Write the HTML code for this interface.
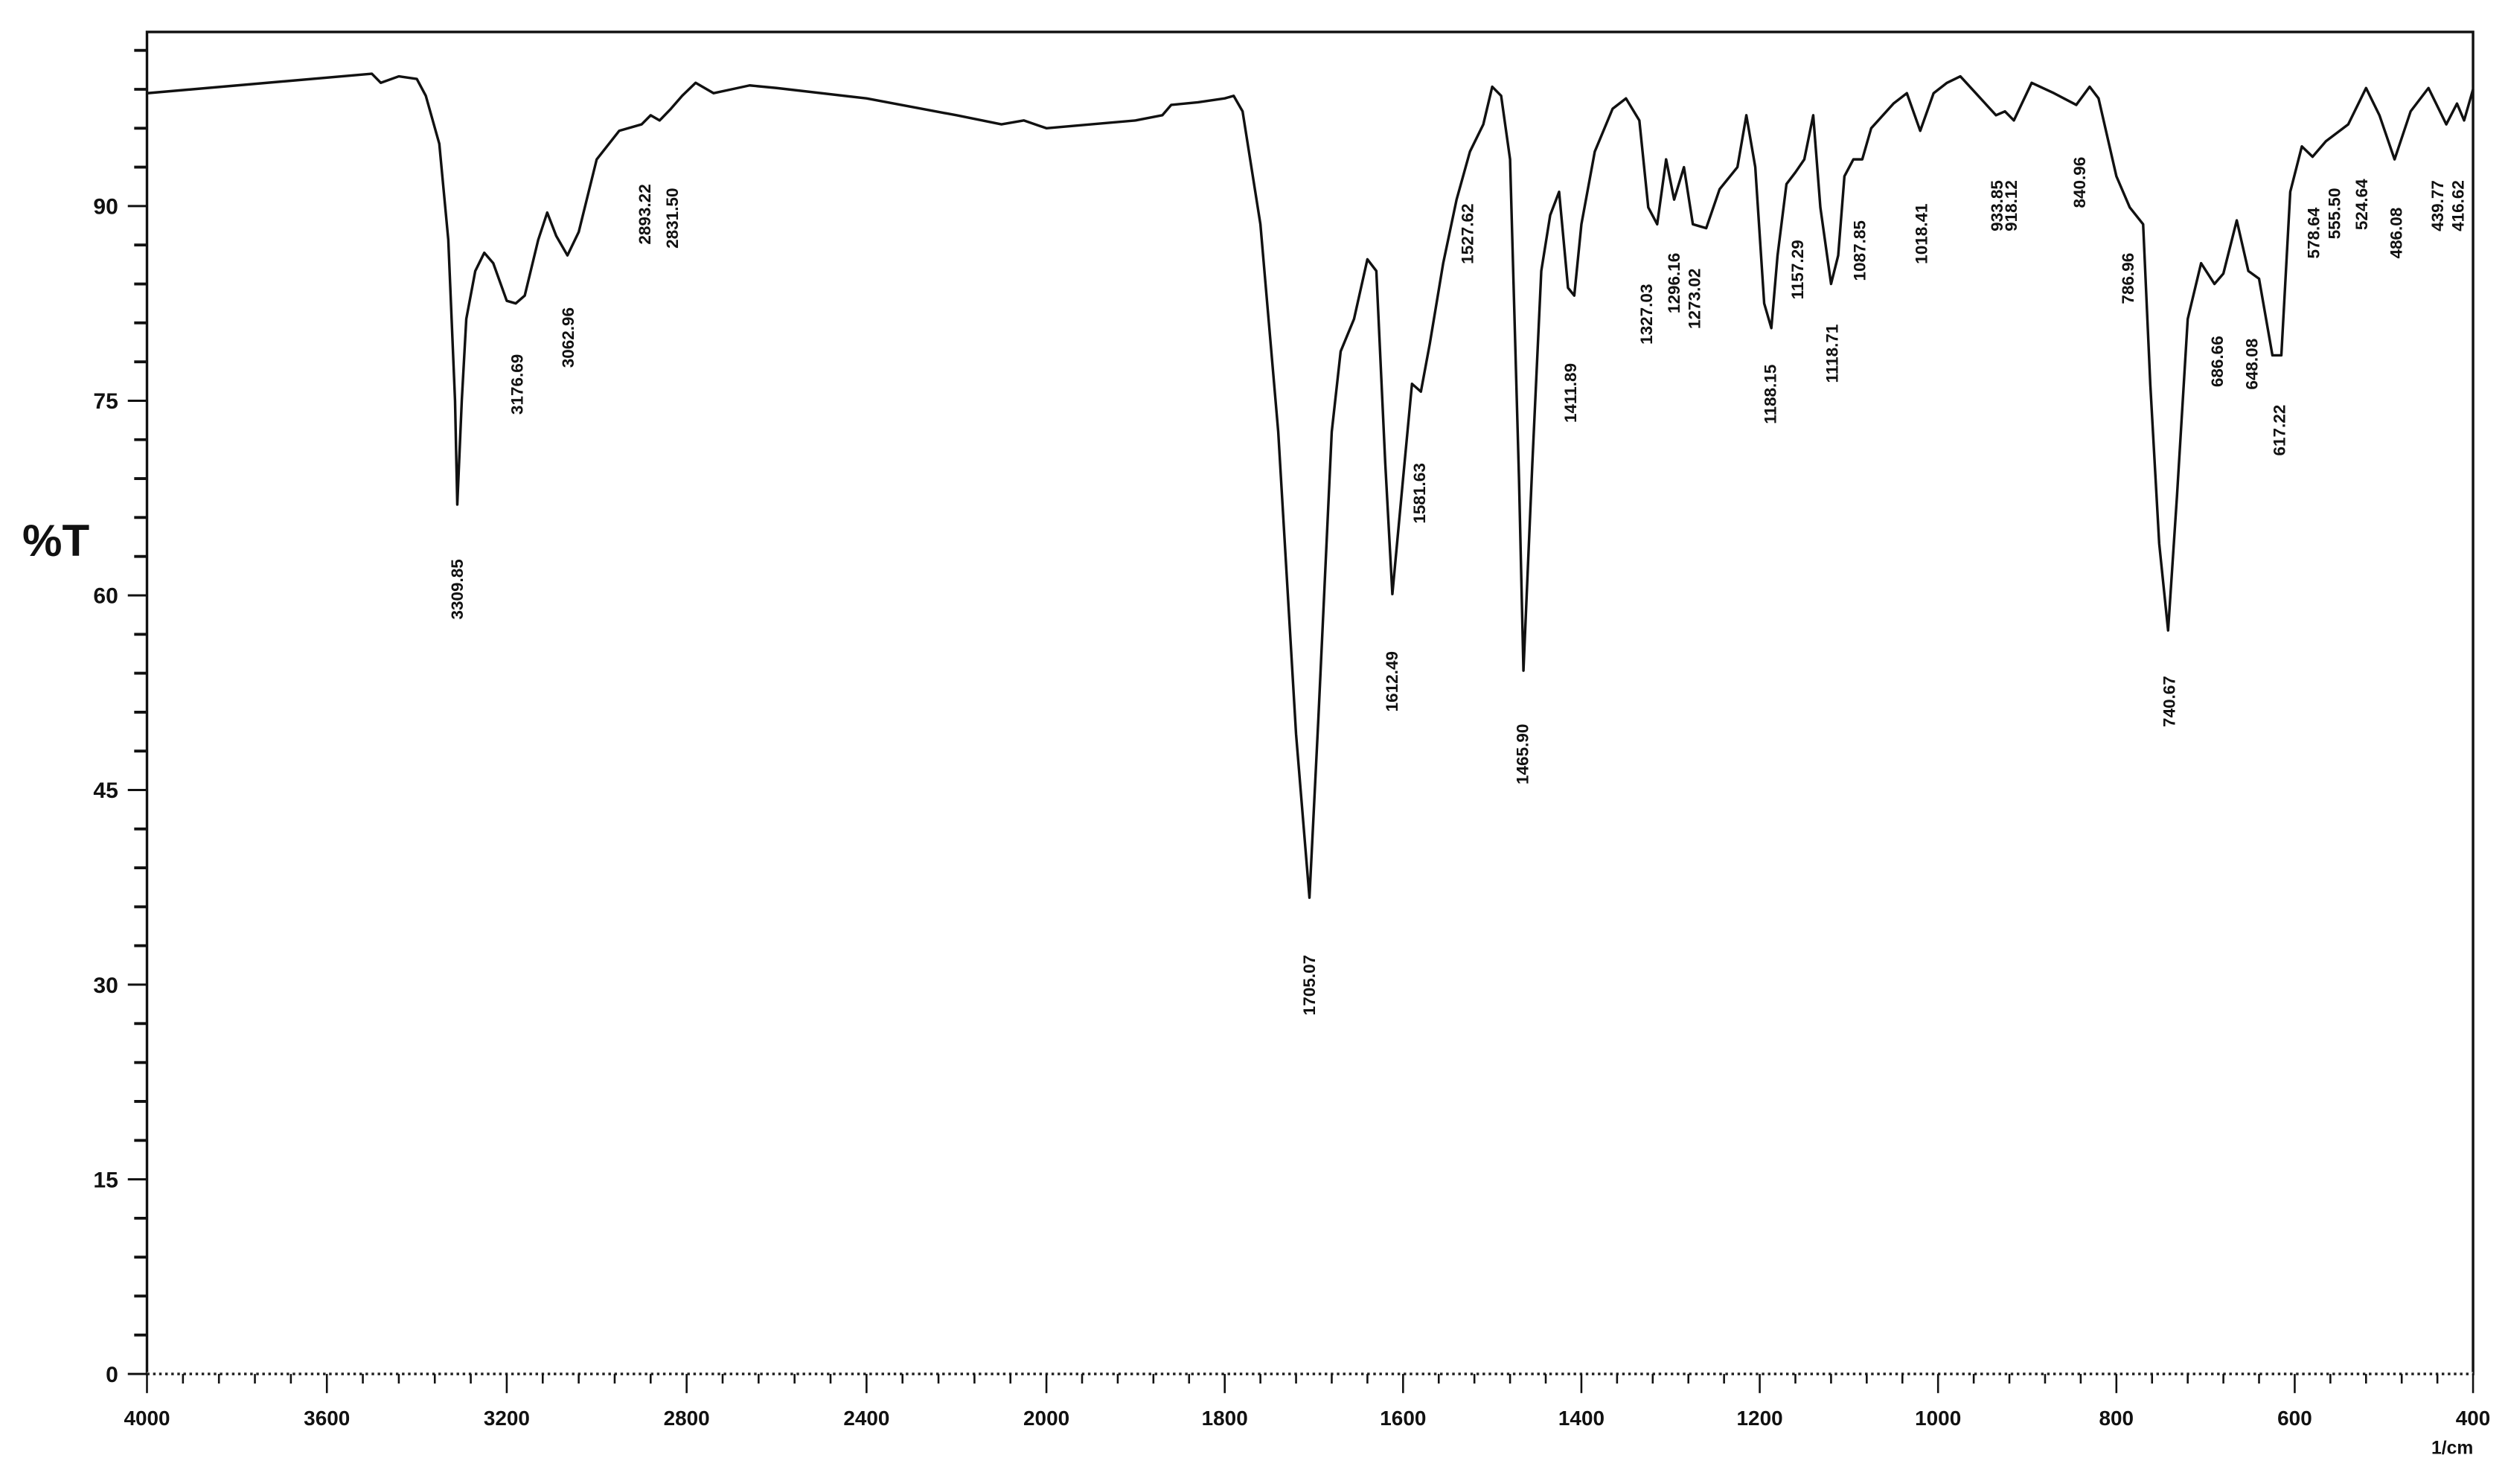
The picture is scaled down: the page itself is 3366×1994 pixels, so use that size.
<!DOCTYPE html>
<html><head><meta charset="utf-8"><style>
html,body{margin:0;padding:0;background:#fff;}
svg{display:block;}
text{font-family:"Liberation Sans",sans-serif;font-weight:bold;fill:#111;}
</style></head><body>
<svg id="chart" width="3366" height="1994" viewBox="0 0 1568 928.9" preserveAspectRatio="none" xmlns="http://www.w3.org/2000/svg">
<g id="axes"></g>
<g id="series"></g>
<g id="labels"></g>
</svg>
<script>
const wavenumbers=[4000,3500,3480,3440,3400,3380,3350,3330,3315,3310,3300,3290,3270,3250,3230,3200,3180,3160,3130,3110,3090,3065,3040,3000,2950,2900,2880,2860,2835,2810,2780,2740,2700,2660,2600,2400,2200,2100,2050,2000,1950,1900,1870,1860,1830,1800,1790,1780,1760,1740,1720,1705,1695,1680,1670,1655,1640,1630,1620,1612,1600,1590,1580,1570,1555,1540,1525,1510,1500,1490,1480,1470,1465,1455,1445,1435,1425,1415,1408,1400,1385,1365,1350,1335,1325,1315,1305,1296,1285,1275,1260,1245,1225,1215,1205,1195,1187,1180,1170,1160,1150,1140,1132,1120,1112,1105,1095,1085,1075,1050,1035,1020,1005,990,975,955,935,925,915,895,870,845,830,820,800,785,770,762,752,742,732,720,705,690,680,665,652,640,625,615,605,592,580,565,540,520,505,488,470,450,430,418,410,400];
const transmittance=[98.7,100.2,99.5,100,99.8,98.5,94.8,87.4,75,67,75,81.3,85,86.4,85.6,82.7,82.5,83.1,87.4,89.5,87.7,86.2,88,93.6,95.8,96.3,97,96.6,97.5,98.5,99.5,98.7,99,99.3,99.1,98.3,97,96.3,96.6,96,96.3,96.6,97,97.8,98,98.3,98.5,97.3,88.6,72.6,49.3,36.7,50.5,72.6,78.8,81.3,85.9,85,70.2,60.1,69,76.3,75.7,79.4,85.6,90.5,94.2,96.3,99.2,98.5,93.6,69,54.2,70.2,85,89.3,91.1,83.7,83.1,88.6,94.2,97.5,98.3,96.6,89.9,88.6,93.6,90.5,93,88.6,88.3,91.3,93,97,93,82.5,80.6,86.2,91.7,92.6,93.6,97,89.9,84,86.2,92.3,93.6,93.6,96,97.9,98.7,95.8,98.7,99.5,100,98.5,97,97.3,96.6,99.5,98.7,97.8,99.2,98.3,92.3,89.9,88.6,76.3,64,57.3,67.7,81.3,85.6,84,84.8,88.9,85,84.4,78.5,78.5,91.1,94.6,93.8,95,96.3,99.1,97,93.6,97.3,99.1,96.3,97.9,96.6,99];
const peakLabels=["3309.85","3176.69","3062.96","2893.22","2831.50","1705.07","1612.49","1581.63","1527.62","1465.90","1411.89","1327.03","1296.16","1273.02","1188.15","1157.29","1118.71","1087.85","1018.41","933.85","918.12","840.96","786.96","740.67","686.66","648.08","617.22","578.64","555.50","524.64","486.08","439.77","416.62"];
const peakLabelT=[62.8,78.6,82.2,91.7,91.4,32.3,55.7,70.2,90.2,50.1,77.9,84,86.4,85.2,77.8,87.4,80.9,88.9,90.2,92,92,93.8,86.4,53.8,80,79.8,74.7,89.9,91.4,92.1,89.9,92,92];
const xTickLabels=[4000,3600,3200,2800,2400,2000,1800,1600,1400,1200,1000,800,600,400];
const yTickLabels=[0,15,30,45,60,75,90];

const L=92,R=1548,T=20,B=860;
const X2000=655;
function xs(w){return w>=2000 ? L+(4000-w)*(X2000-L)/2000 : X2000+(2000-w)*(R-X2000)/1600;}
function ys(t){return B-t*(B-129)/90;}
const NS="http://www.w3.org/2000/svg";
function mk(tag,attrs,parent){const e=document.createElementNS(NS,tag);for(const k in attrs)e.setAttribute(k,attrs[k]);parent.appendChild(e);return e;}
const axes=document.getElementById('axes');

let e=mk('rect',{x:L,y:T,width:R-L,height:B-T,fill:'none',stroke:'#111','stroke-width':1.6},axes);


e=mk('line',{x1:L,y1:B,x2:R,y2:B,stroke:'#fff','stroke-width':2.2},axes);
e=mk('line',{x1:L,y1:B,x2:R,y2:B,stroke:'#222','stroke-width':1.6,'stroke-dasharray':'1.6 2.2'},axes);



for(let v=0;v<=102;v+=3){
  const y=ys(v);const major=v%15===0;
  e=mk('line',{x1:major?80:84,y1:y,x2:L,y2:y,stroke:'#111','stroke-width':major?1.4:1.8},axes);
  
  
}
yTickLabels.forEach(v=>{
  e=mk('text',{x:74,y:ys(v)+5,'text-anchor':'end','font-size':14},axes);
  e.textContent=v;
  
  
});
for(let w=4000;w>=2000;w-=80){
  const major=w%400===0;
  e=mk('line',{x1:xs(w),y1:B,x2:xs(w),y2:B+(major?12:6),stroke:'#111','stroke-width':1.2},axes);
  
  
}
for(let w=1960;w>=400;w-=40){
  const major=w%200===0;
  e=mk('line',{x1:xs(w),y1:B,x2:xs(w),y2:B+(major?12:6),stroke:'#111','stroke-width':1.2},axes);
  
  
}
xTickLabels.forEach(w=>{
  e=mk('text',{x:xs(w),y:892,'text-anchor':'middle','font-size':13},axes);
  e.textContent=w;
  
  
});
e=mk('text',{x:1535,y:910,'text-anchor':'middle','font-size':11.5},axes);
e.textContent='1/cm';


e=mk('text',{x:14,y:348,'font-size':28},axes);
e.textContent='%T';



const pts=wavenumbers.map((w,i)=>xs(w).toFixed(2)+','+ys(transmittance[i]).toFixed(2)).join(' ');
e=mk('polyline',{points:pts,fill:'none',stroke:'#111','stroke-width':1.6,'stroke-linejoin':'round'},document.getElementById('series'));



const lg=document.getElementById('labels');
peakLabels.forEach((s,i)=>{
  const x=xs(parseFloat(s)),y=ys(peakLabelT[i]);
  e=mk('text',{x:x,y:y,'text-anchor':'end','dominant-baseline':'central','font-size':10.5,transform:'rotate(-90 '+x+' '+y+')'},lg);
  e.textContent=s;
  
  
});
</script>
</body></html>
